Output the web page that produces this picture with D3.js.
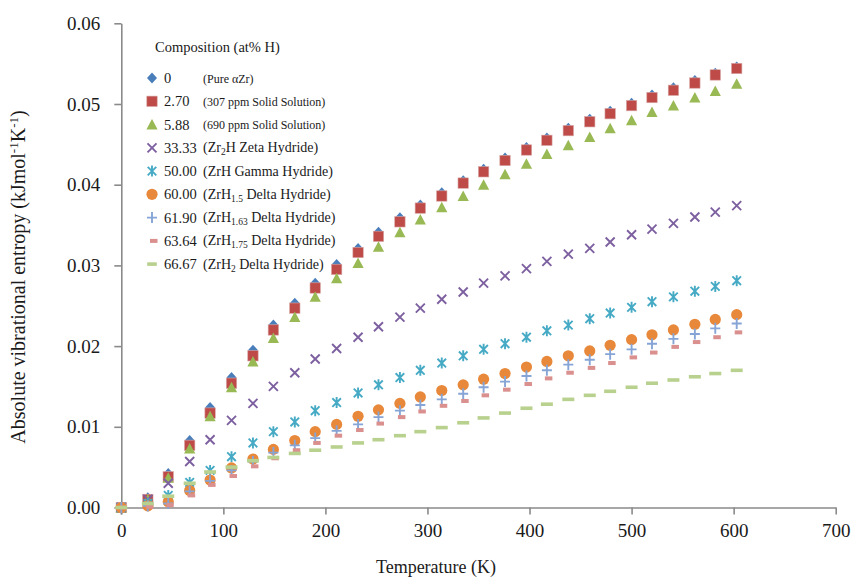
<!DOCTYPE html>
<html>
<head>
<meta charset="utf-8">
<script src="https://cdn.jsdelivr.net/npm/d3@7"></script>
<style>
  body { margin: 0; background: #fff; }
</style>
</head>
<body>
<svg id="chart" width="853" height="578"></svg>
<script>
// temperatures (K)
var temps = [0, 26, 46, 67, 87, 108, 129, 149, 170, 190, 211, 232, 252, 273, 293, 314, 335, 355, 376, 397, 417, 438, 459, 479, 500, 520, 541, 562, 582, 603];

// absolute vibrational entropy (kJ/mol/K), one array per composition
var pureZr   = [0, 0.0012, 0.0042, 0.0083, 0.0124, 0.0161, 0.0195, 0.0226, 0.0253, 0.0278, 0.0301, 0.0321, 0.0341, 0.0359, 0.0375, 0.0390, 0.0405, 0.0419, 0.0433, 0.0446, 0.0458, 0.0470, 0.0481, 0.0491, 0.0501, 0.0511, 0.0520, 0.0529, 0.0538, 0.0546];
var ss307    = [0, 0.0010, 0.0038, 0.0077, 0.0117, 0.0154, 0.0188, 0.0220, 0.0247, 0.0272, 0.0295, 0.0316, 0.0336, 0.0354, 0.0371, 0.0386, 0.0402, 0.0416, 0.0430, 0.0443, 0.0455, 0.0467, 0.0478, 0.0488, 0.0498, 0.0508, 0.0517, 0.0526, 0.0536, 0.0544];
var ss690    = [0, 0.0010, 0.0037, 0.0073, 0.0113, 0.0149, 0.0181, 0.0210, 0.0236, 0.0261, 0.0284, 0.0303, 0.0323, 0.0341, 0.0357, 0.0372, 0.0386, 0.0400, 0.0413, 0.0426, 0.0438, 0.0449, 0.0459, 0.0470, 0.0480, 0.0490, 0.0498, 0.0508, 0.0516, 0.0525];
var zeta     = [0, 0.0010, 0.0030, 0.0057, 0.0084, 0.0108, 0.0129, 0.0150, 0.0167, 0.0184, 0.0197, 0.0211, 0.0224, 0.0236, 0.0247, 0.0258, 0.0267, 0.0278, 0.0287, 0.0296, 0.0305, 0.0314, 0.0321, 0.0329, 0.0338, 0.0345, 0.0352, 0.0360, 0.0366, 0.0374];
var gamma    = [0, 0.0005, 0.0015, 0.0031, 0.0046, 0.0063, 0.0080, 0.0094, 0.0106, 0.0120, 0.0130, 0.0142, 0.0152, 0.0161, 0.0170, 0.0179, 0.0188, 0.0196, 0.0203, 0.0211, 0.0219, 0.0226, 0.0234, 0.0241, 0.0248, 0.0255, 0.0261, 0.0268, 0.0274, 0.0281];
var delta150 = [0, 0.0002, 0.0007, 0.0021, 0.0034, 0.0049, 0.0060, 0.0072, 0.0083, 0.0094, 0.0103, 0.0113, 0.0121, 0.0129, 0.0137, 0.0145, 0.0152, 0.0159, 0.0166, 0.0174, 0.0181, 0.0188, 0.0194, 0.0201, 0.0208, 0.0214, 0.0220, 0.0227, 0.0233, 0.0239];
var delta163 = [0, 0.0002, 0.0005, 0.0020, 0.0033, 0.0046, 0.0057, 0.0068, 0.0077, 0.0086, 0.0095, 0.0103, 0.0112, 0.0120, 0.0127, 0.0134, 0.0141, 0.0149, 0.0156, 0.0163, 0.0170, 0.0177, 0.0183, 0.0190, 0.0196, 0.0203, 0.0209, 0.0215, 0.0222, 0.0228];
var delta175 = [0, 0.0001, 0.0003, 0.0015, 0.0028, 0.0039, 0.0051, 0.0061, 0.0071, 0.0080, 0.0089, 0.0096, 0.0104, 0.0112, 0.0119, 0.0126, 0.0132, 0.0139, 0.0146, 0.0153, 0.0160, 0.0167, 0.0173, 0.0179, 0.0186, 0.0192, 0.0199, 0.0205, 0.0211, 0.0217];
var delta200 = [0, 0.0005, 0.0014, 0.0030, 0.0044, 0.0050, 0.0058, 0.0062, 0.0067, 0.0071, 0.0075, 0.0080, 0.0084, 0.0089, 0.0094, 0.0099, 0.0105, 0.0111, 0.0117, 0.0123, 0.0128, 0.0134, 0.0139, 0.0144, 0.0149, 0.0154, 0.0158, 0.0162, 0.0166, 0.0170];

// legend text
var compositions = ["0", "2.70", "5.88", "33.33", "50.00", "60.00", "61.90", "63.64", "66.67"];
// [normal, subscript, normal, ...]
var descriptions = [
  ["(Pure \u03b1Zr)"],
  ["(307 ppm Solid Solution)"],
  ["(690 ppm Solid Solution)"],
  ["(Zr", "2", "H Zeta Hydride)"],
  ["(ZrH Gamma Hydride)"],
  ["(ZrH", "1.5", " Delta Hydride)"],
  ["(ZrH", "1.63", " Delta Hydride)"],
  ["(ZrH", "1.75", " Delta Hydride)"],
  ["(ZrH", "2", " Delta Hydride)"]
];
var xTicks = [0, 100, 200, 300, 400, 500, 600, 700];
var yTicks = [0, 0.01, 0.02, 0.03, 0.04, 0.05, 0.06];

var seriesValues = [pureZr, ss307, ss690, zeta, gamma, delta150, delta163, delta175, delta200];
var shapes = ["diamond", "square", "triangle", "times", "asterisk", "circle", "plus", "shortdash", "longdash"];
var colors = ["#4A7EBB", "#BE4B48", "#98B954", "#7D60A0", "#46AAC5", "#E8883A", "#86A5D6", "#D9908E", "#B9D18E"];

var serif = '"Liberation Serif", "Times New Roman", serif';
var svg = d3.select("#chart");
var x = d3.scaleLinear().domain([0, 700]).range([121.3, 835.7]);
var y = d3.scaleLinear().domain([0, 0.06]).range([507.5, 23.3]);
var axisColor = "#8a8a8a";

// axes
var gx = svg.append("g").attr("transform", "translate(0," + y(0) + ")")
  .call(d3.axisBottom(x).tickValues(xTicks).tickFormat(d3.format("d")).tickSize(7).tickSizeOuter(0).tickPadding(9));
var gy = svg.append("g").attr("transform", "translate(" + x(0) + ",0)")
  .call(d3.axisLeft(y).tickValues(yTicks).tickFormat(d3.format(".2f")).tickSize(7).tickSizeOuter(0).tickPadding(14));
[gx, gy].forEach(function(g) {
  g.attr("font-family", null).attr("font-size", null);
  g.select(".domain").attr("stroke", axisColor).attr("stroke-width", 1.6);
  g.selectAll(".tick line").attr("stroke", axisColor).attr("stroke-width", 1.6);
  g.selectAll(".tick text").style("font-family", serif).style("font-size", "19px").attr("fill", "#1a1a1a");
});
svg.append("line").attr("x1", x(0)).attr("x2", x(0)).attr("y1", y(0)).attr("y2", y(0) + 7)
  .attr("stroke", axisColor).attr("stroke-width", 1.6);

// axis titles
svg.append("text").attr("x", 436).attr("y", 573).attr("text-anchor", "middle")
  .style("font-family", serif).style("font-size", "18px").attr("fill", "#1a1a1a").text("Temperature (K)");
var yl = svg.append("text").attr("transform", "translate(25,277) rotate(-90)")
  .attr("text-anchor", "middle").style("font-family", serif).style("font-size", "20px").attr("fill", "#1a1a1a");
yl.append("tspan").text("Absolute vibrational entropy (kJmol");
yl.append("tspan").style("font-size", "13px").attr("dy", -7).text("-1");
yl.append("tspan").attr("dy", 7).text("K");
yl.append("tspan").style("font-size", "13px").attr("dy", -7).text("-1");
yl.append("tspan").attr("dy", 7).text(")");

// marker drawing
function marker(sel, shape, color) {
  if (shape === "diamond") {
    sel.append("path").attr("d", "M0,-5.5L5,0L0,5.5L-5,0Z").attr("fill", color);
  } else if (shape === "square") {
    sel.append("rect").attr("x", -5.2).attr("y", -5.2).attr("width", 10.4).attr("height", 10.4)
      .attr("fill", color).attr("stroke", "#d8a9a8").attr("stroke-width", 0.6);
  } else if (shape === "triangle") {
    sel.append("path").attr("d", "M0,-5.5L5.6,5L-5.6,5Z").attr("fill", color);
  } else if (shape === "times") {
    sel.append("path").attr("d", "M-4.5,-4.5L4.5,4.5M-4.5,4.5L4.5,-4.5")
      .attr("stroke", color).attr("stroke-width", 1.9).attr("fill", "none");
  } else if (shape === "asterisk") {
    sel.append("path").attr("d", "M-4.3,-4.3L4.3,4.3M-4.3,4.3L4.3,-4.3M0,-5.5L0,5.5")
      .attr("stroke", color).attr("stroke-width", 1.9).attr("fill", "none");
  } else if (shape === "circle") {
    sel.append("circle").attr("r", 5.6).attr("fill", color);
  } else if (shape === "plus") {
    sel.append("path").attr("d", "M-5,0L5,0M0,-5.5L0,5.5")
      .attr("stroke", color).attr("stroke-width", 1.9).attr("fill", "none");
  } else if (shape === "shortdash") {
    sel.append("rect").attr("x", -2).attr("y", -2).attr("width", 7.5).attr("height", 4).attr("fill", color);
  } else if (shape === "longdash") {
    sel.append("rect").attr("x", -6).attr("y", -1.8).attr("width", 12).attr("height", 3.6).attr("fill", color);
  }
}

// series points (later series drawn on top)
seriesValues.forEach(function(vals, si) {
  var g = svg.append("g").attr("class", "series s" + si);
  g.selectAll("g.pt").data(vals).enter().append("g").attr("class", "pt")
    .attr("transform", function(d, i) { return "translate(" + x(temps[i]) + "," + y(d) + ")"; })
    .each(function() { marker(d3.select(this), shapes[si], colors[si]); });
});

// legend
svg.append("text").attr("x", 155).attr("y", 52).style("font-family", serif).style("font-size", "14.5px")
  .attr("fill", "#1a1a1a").text("Composition (at% H)");
var rowY = [78, 101.3, 124.5, 147.8, 171.1, 194.3, 217.6, 240.9, 264.1];
compositions.forEach(function(c, i) {
  var row = svg.append("g").attr("transform", "translate(0," + rowY[i] + ")");
  var mk = row.append("g").attr("transform", "translate(152,0)");
  if (shapes[i] === "longdash") mk.attr("transform", "translate(152,0) scale(0.8,1)");
  marker(mk, shapes[i], colors[i]);
  row.append("text").attr("x", 164).attr("y", 5).style("font-family", serif).style("font-size", "14.5px")
    .attr("fill", "#1a1a1a").text(c);
  var t = row.append("text").attr("x", 203).attr("y", 4.5).style("font-family", serif)
    .style("font-size", i < 3 ? "12px" : "14px").attr("fill", "#1a1a1a");
  descriptions[i].forEach(function(part, k) {
    if (k % 2 === 1) {
      t.append("tspan").style("font-size", "9.5px").attr("dy", 3).text(part);
    } else {
      t.append("tspan").attr("dy", k === 0 ? 0 : -3).text(part);
    }
  });
});
</script>
</body>
</html>
